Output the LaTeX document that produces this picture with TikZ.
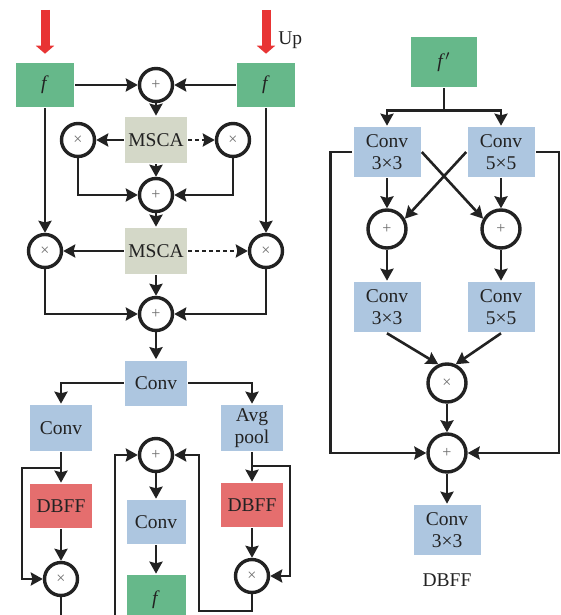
\documentclass[tikz,border=0pt]{standalone}
\usepackage{fontspec}
\setmainfont{Liberation Serif}
\usetikzlibrary{arrows.meta}
\definecolor{lk}{HTML}{222222}
\definecolor{fgreen}{HTML}{66B88A}
\definecolor{cblue}{HTML}{ADC6E0}
\definecolor{mgray}{HTML}{D4D8C8}
\definecolor{dred}{HTML}{E56E6E}
\definecolor{upred}{HTML}{E83434}
\begin{document}
\begin{tikzpicture}[x=0.5pt,y=-0.5pt,color=lk,line width=1.3pt,
  arr/.style={-{Stealth[length=6pt,width=6.5pt,inset=0.8pt]}},
  blk/.style={inner sep=0pt,font=\fontsize{9.75}{11}\selectfont,align=center,minimum width=31pt,minimum height=23pt},
  op/.style={circle,draw=lk,line width=1.7pt,fill=white,minimum size=16.5pt,inner sep=0pt,text=gray!85!black,font=\fontsize{8}{9}\selectfont},
  upin/.style={upred,line width=4.5pt,shorten >=4pt,-{Triangle[length=4pt,width=9pt]}}]
\useasboundingbox (0,0) rectangle (561,615);
\clip (0,0) rectangle (561,615);
% left branch
\node[blk,fill=fgreen,minimum width=29pt,minimum height=22pt] (fL) at (45,85) {\textit{f}};
\node[blk,fill=fgreen,minimum width=29pt,minimum height=22pt] (fR) at (266,85) {\textit{f}};
\coordinate (inL) at (45,10); \coordinate (inR) at (266,10);
\draw[upin] (inL) -- (fL.north);
\draw[upin] (inR) -- (fR.north);
\node[anchor=west,inner sep=0pt,font=\fontsize{9.75}{11}\selectfont] (up) at (277,40) {Up};
\node[op] (add1) at (156,85) {+};
\node[blk,fill=mgray] (mscaA) at (156,140) {MSCA};
\node[op] (mulA) at (78,140) {×};
\node[op] (mulB) at (233,140) {×};
\node[op] (add2) at (156,195) {+};
\node[blk,fill=mgray] (mscaB) at (156,251) {MSCA};
\node[op] (mulC) at (45,251) {×};
\node[op] (mulD) at (266,251) {×};
\node[op] (add3) at (156,314) {+};
\node[blk,fill=cblue,minimum height=22.5pt] (conv0) at (156,383) {Conv};
\node[blk,fill=cblue] (convL) at (61,428) {Conv};
\node[blk,fill=cblue] (pool) at (252,428) {Avg\\pool};
\node[blk,fill=dred,minimum height=22pt] (dbffL) at (61,506) {DBFF};
\node[blk,fill=dred,minimum height=22pt] (dbffR) at (252,505) {DBFF};
\node[op] (mulE) at (61,579) {×};
\node[op] (mulF) at (252,576) {×};
\node[op] (add4) at (156,455) {+};
\node[blk,fill=cblue,minimum width=29.5pt,minimum height=22pt] (convM) at (156,522) {Conv};
\node[blk,fill=fgreen,minimum width=29.5pt,minimum height=25pt] (fB) at (156,600) {\textit{f}};
\draw[arr] (fL) -- (add1);
\draw[arr] (fR) -- (add1);
\draw[arr] (add1) -- (mscaA);
\draw[arr] (mscaA) -- (mulA);
\draw[arr,dash pattern=on 2pt off 1.5pt] (mscaA) -- (mulB);
\draw[arr] (mscaA) -- (add2);
\draw[arr] (mulA.south) |- (add2.west);
\draw[arr] (mulB.south) |- (add2.east);
\draw[arr] (fL) -- (mulC);
\draw[arr] (fR) -- (mulD);
\draw[arr] (add2) -- (mscaB);
\draw[arr] (mscaB) -- (mulC);
\draw[arr,dash pattern=on 2pt off 1.5pt] (mscaB) -- (mulD);
\draw[arr] (mscaB) -- (add3);
\draw[arr] (mulC.south) |- (add3.west);
\draw[arr] (mulD.south) |- (add3.east);
\draw[arr] (add3) -- (conv0);
\draw[arr] (conv0.west) -| (convL.north);
\draw[arr] (conv0.east) -| (pool.north);
\draw[arr] (convL) -- (dbffL);
\draw[arr] (dbffL) -- (mulE);
\coordinate (brL) at (61,468);
\draw[arr] (brL) -- ++(-39,0) |- (mulE.west);
\draw (mulE.south) -- ++(0,40);
\draw[arr] (pool) -- (dbffR);
\draw[arr] (dbffR) -- (mulF);
\coordinate (brR) at (252,466);
\draw[arr] (brR) -- ++(38,0) |- (mulF.east);
\coordinate (loopR) at (199,611);
\draw[arr] (mulF.south) |- (loopR) |- (add4.east);
\coordinate (loopL) at (115,640);
\draw[arr] (loopL) |- (add4.west);
\draw[arr] (add4) -- (convM);
\draw[arr] (convM) -- (fB);
% DBFF
\node[blk,fill=fgreen,minimum width=33pt,minimum height=25pt] (fP) at (444,62) {\textit{f}$'$};
\node[blk,fill=cblue,minimum width=33.5pt,minimum height=25pt] (c3a) at (387,152) {Conv\\3×3};
\node[blk,fill=cblue,minimum width=33.5pt,minimum height=25pt] (c5a) at (501,152) {Conv\\5×5};
\node[op,minimum size=19pt] (addP) at (387,229) {+};
\node[op,minimum size=19pt] (addQ) at (501,229) {+};
\node[blk,fill=cblue,minimum width=33.5pt,minimum height=25pt] (c3b) at (387,307) {Conv\\3×3};
\node[blk,fill=cblue,minimum width=33.5pt,minimum height=25pt] (c5b) at (501,307) {Conv\\5×5};
\node[op,minimum size=19pt] (mulP) at (447,383) {×};
\node[op,minimum size=19pt] (addR) at (447,453) {+};
\node[blk,fill=cblue,minimum width=33.5pt,minimum height=25pt] (c3c) at (447,530) {Conv\\3×3};
\node[blk] (cap) at (447,580) {DBFF};
\draw (fP.south) -- ++(0,22) coordinate (sp);
\draw[arr] (sp) -| (c3a.north);
\draw[arr] (sp) -| (c5a.north);
\draw[arr] (c3a) -- (addP);
\draw[arr] (c5a) -- (addQ);
\draw[arr] (c3a.east) -- (addQ.150);
\draw[arr] (c5a.west) -- (addP.30);
\draw[arr] (addP) -- (c3b);
\draw[arr] (addQ) -- (c5b);
\draw[arr] (c3b.south) -- (mulP.115);
\draw[arr] (c5b.south) -- (mulP.65);
\draw[arr] (mulP) -- (addR);
\draw[arr] (c3a.west) -- ++(-22,0) |- (addR.west);
\draw[arr] (c5a.east) -- ++(23,0) |- (addR.east);
\draw[arr] (addR) -- (c3c);
\end{tikzpicture}
\end{document}
